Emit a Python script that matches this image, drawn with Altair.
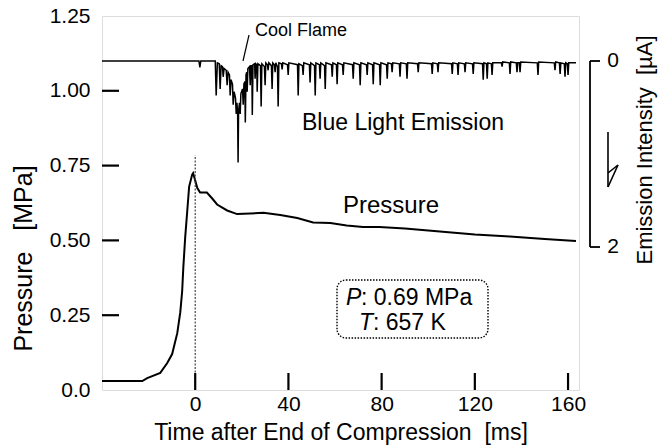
import altair as alt
import pandas as pd

FONT = "Liberation Sans"
NB = "\u00a0"

# ---- data ----
# pressure trace: time [ms], pressure [MPa]
p_t = [-40, -22.7, -20.6, -15.0, -12.0, -9.9, -7.7, -6.4, -5.6, -5.1, -4.3, -3.4, -2.6,
       -1.3, -0.9, 0.0, 0.9, 2.1, 5.0, 7.3, 9.4, 13.7, 18.0, 23.6, 29.3, 36.5, 43.8,
       50.6, 58.0, 65.0, 72.0, 79.0, 90, 105, 120, 135, 150, 160, 163.4]
p_v = [0.03, 0.03, 0.04, 0.057, 0.09, 0.12, 0.19, 0.26, 0.33, 0.41, 0.51, 0.60, 0.68,
       0.72, 0.725, 0.70, 0.675, 0.66, 0.66, 0.64, 0.62, 0.60, 0.588, 0.59, 0.592, 0.585, 0.575,
       0.56, 0.558, 0.55, 0.545, 0.545, 0.54, 0.53, 0.52, 0.513, 0.505, 0.50, 0.498]

# blue light emission: time [ms], intensity [uA] (downward spikes)
e_t = [-40, 1.6, 2.0, 2.4, 8.6, 9.0, 9.5, 10.3, 10.7, 11.1, 11.7, 12.0, 12.4, 13.3, 13.7,
       14.1, 14.7, 15.0, 15.4, 16.0, 16.3, 16.7, 17.3, 17.6, 17.9, 18.2, 18.4, 18.6, 19.0,
       19.3, 19.6, 20.3, 20.6, 20.9, 21.3, 21.5, 21.8, 22.1, 22.3, 22.6, 23.3, 23.6, 23.9,
       24.3, 24.5, 24.8, 25.5, 25.7, 26.0, 26.4, 26.6, 26.9, 28.0, 28.3, 28.6, 29.7, 30.0,
       30.3, 31.0, 31.3, 31.6, 32.7, 33.0, 33.3, 34.0, 34.3, 34.6, 35.3, 35.6, 35.9, 37.0,
       37.3, 37.6, 39.6, 39.9, 40.2, 43.9, 44.2, 44.5, 46.0, 46.3, 46.6, 49.0, 49.3, 49.6,
       51.2, 51.5, 51.8, 53.3, 53.6, 53.9, 55.5, 55.8, 56.1, 58.5, 58.8, 59.1, 60.6, 60.9,
       61.2, 63.2, 63.5, 63.8, 67.5, 67.8, 68.1, 70.5, 70.8, 71.1, 73.5, 73.8, 74.1, 76.1,
       76.4, 76.7, 79.1, 79.4, 79.7, 82.1, 82.4, 82.7, 84.2, 84.5, 84.8, 87.6, 87.9, 88.2,
       90.6, 90.9, 91.2, 95.4, 95.7, 96.0, 101.4, 101.7, 102.0, 103.9, 104.2, 104.5, 110.0,
       110.3, 110.6, 112.5, 112.8, 113.1, 115.5, 115.8, 116.1, 119.0, 119.3, 119.6, 123.3,
       123.6, 123.9, 125.0, 125.3, 125.6, 127.1, 127.4, 127.7, 131.4, 131.7, 132.0, 134.8,
       135.1, 135.4, 137.8, 138.1, 138.4, 139.1, 139.4, 139.7, 146.8, 147.1, 147.4, 154.1,
       154.4, 154.7, 156.3, 156.6, 156.9, 158.4, 158.7, 159.0, 159.7, 160.0, 160.3, 163.4]
e_i = [0, 0, 0.07, 0, 0, 0.37, 0.02, 0.03, 0.30, 0.05, 0.06, 0.17, 0.08, 0.10, 0.26,
       0.12, 0.15, 0.37, 0.20, 0.25, 0.47, 0.33, 0.40, 0.57, 0.45, 0.55, 1.09, 0.55, 0.45,
       0.57, 0.35, 0.30, 0.47, 0.25, 0.22, 0.66, 0.15, 0.12, 0.33, 0.08, 0.06, 0.26, 0.05,
       0.05, 0.58, 0.04, 0.03, 0.19, 0.03, 0.04, 0.33, 0.03, 0.05, 0.49, 0.03, 0.06, 0.26,
       0.02, 0.04, 0.10, 0.02, 0.05, 0.30, 0.02, 0.04, 0.12, 0.02, 0.06, 0.49, 0.02, 0.03,
       0.09, 0.02, 0.04, 0.15, 0.02, 0.04, 0.37, 0.03, 0.05, 0.15, 0.02, 0.04, 0.23, 0.02,
       0.05, 0.37, 0.02, 0.04, 0.19, 0.02, 0.05, 0.30, 0.02, 0.04, 0.17, 0.02, 0.04, 0.25,
       0.02, 0.04, 0.15, 0.02, 0.04, 0.19, 0.02, 0.04, 0.26, 0.02, 0.04, 0.15, 0.02, 0.04,
       0.25, 0.02, 0.04, 0.26, 0.02, 0.04, 0.19, 0.02, 0.03, 0.12, 0.02, 0.03, 0.17, 0.02,
       0.03, 0.19, 0.02, 0.03, 0.12, 0.02, 0.03, 0.14, 0.02, 0.03, 0.12, 0.02, 0.03,
       0.14, 0.02, 0.03, 0.15, 0.02, 0.03, 0.12, 0.02, 0.03, 0.14, 0.02, 0.03,
       0.20, 0.02, 0.03, 0.19, 0.02, 0.03, 0.15, 0.02, 0.02, 0.06, 0.01, 0.02,
       0.14, 0.01, 0.02, 0.12, 0.02, 0.02, 0.12, 0.01, 0.02, 0.15, 0.01, 0.02,
       0.10, 0.01, 0.02, 0.14, 0.02, 0.03, 0.17, 0.02, 0.03, 0.15, 0.02, 0.02]

x_ticks = [0, 40, 80, 120, 160]
y_ticks = [0.25, 0.50, 0.75, 1.00]
y_labels = [0, 0.25, 0.5, 0.75, 1.0, 1.25]
em_ticks = [0, 2]
em_labels = ["0", "2"]
cond_p = "0.69 MPa"
cond_T = "657 K"

# right-hand emission axis drawn against the pressure axis:
# 0 uA sits at 1.0996 MPa, each uA spans 0.31085 MPa downward
EM_ZERO, EM_PER_UA = 1.0996, 0.31085
EM_EXPR = f"{EM_ZERO} - {EM_PER_UA} * datum.i"

W, H = 477, 374
X0, X1 = -40, 164.7
TL = 17  # inward tick length in px

p_df = pd.DataFrame({"t": p_t, "p": p_v})
e_df = pd.DataFrame({"t": e_t, "i": e_i})
yt_df = pd.DataFrame({"v": y_ticks, "lab": [str(v) for v in y_ticks]})
zero_df = pd.DataFrame({"t": [0], "p0": [0.0], "p1": [0.785]})
em_df = pd.DataFrame({"i": em_ticks, "lab": em_labels})
one = pd.DataFrame({"k": [0]})

xs = alt.Scale(domain=[X0, X1], nice=False, zero=False)
ps = alt.Scale(domain=[0, 1.25], nice=False, zero=False)
X = alt.X("t:Q", scale=xs, axis=alt.Axis(
    values=x_ticks, title=f"Time after End of Compression{NB} [ms]", grid=False,
    domain=False, ticks=False, tickSize=0, labelPadding=3, labelFontSize=21,
    labelFont=FONT, labelColor="black", titleFont=FONT, titleFontSize=23,
    titleFontWeight="normal", titleColor="black", titleY=42, titleBaseline="middle"))
Y = alt.Y("p:Q", scale=ps, axis=alt.Axis(
    values=y_labels, labelExpr="datum.value == 0 ? '0.0' : format(datum.value, '.2f')",
    title=f"Pressure{NB}{NB} [MPa]", grid=False, domain=False, ticks=False, tickSize=0,
    labelPadding=12, labelFontSize=21, labelFont=FONT, labelColor="black",
    titleFont=FONT, titleFontSize=25, titleFontWeight="normal", titleColor="black",
    titleX=-79, titleY=242, titleBaseline="middle"))
XS = alt.X("t:Q", scale=xs)
YS = alt.Y("p:Q", scale=ps)

pressure = alt.Chart(p_df).mark_line(color="black", strokeWidth=2).encode(x=X, y=Y)
zero_line = alt.Chart(zero_df).mark_rule(color="#444", strokeWidth=1.2, strokeDash=[2, 1.5]).encode(
    x=XS, y=alt.Y("p0:Q", scale=ps), y2="p1:Q")

# inward ticks on the bottom axis, one per tick value, placed through the x scale
xticks = [
    alt.Chart(one).mark_rule(color="black", strokeWidth=2.2).encode(
        x=alt.X(datum=v, scale=xs), y=alt.value(H), y2=alt.value(H - TL))
    for v in x_ticks
]
# inward ticks on the left axis, placed through the y scale
ytick = alt.Chart(yt_df).transform_calculate(p="datum.v").mark_rule(
    color="black", strokeWidth=2.2).encode(x=alt.value(0), x2=alt.value(TL), y=YS)

emission = alt.Chart(e_df).transform_calculate(p=EM_EXPR).mark_line(
    color="black", strokeWidth=1.5).encode(x=XS, y=YS)
em_pts = alt.Chart(em_df).transform_calculate(p=EM_EXPR)
bracket = em_pts.mark_line(color="black", strokeWidth=1.8).encode(
    x=alt.value(488), y=YS, order="i:Q")
btick = em_pts.mark_rule(color="black", strokeWidth=1.8).encode(
    x=alt.value(488), x2=alt.value(498), y=YS)
blab = em_pts.mark_text(font=FONT, fontSize=21, color="black", align="center",
                        baseline="middle").encode(x=alt.value(511), y=YS, text="lab:N")


def txt(s, x, y, size, **kw):
    return alt.Chart(one).mark_text(font=FONT, fontSize=size, color="black", **kw).encode(
        x=alt.value(x), y=alt.value(y), text=alt.value(s))


def seg(x1, y1, x2, y2, w=1.5):
    return alt.Chart(one).mark_rule(color="black", strokeWidth=w).encode(
        x=alt.value(x1), y=alt.value(y1), x2=alt.value(x2), y2=alt.value(y2))


box = alt.Chart(one).mark_rect(fill=None, stroke="black", strokeWidth=1.4,
                               strokeDash=[1.5, 1.5], cornerRadius=9).encode(
    x=alt.value(235), x2=alt.value(386), y=alt.value(264), y2=alt.value(322))

chart = alt.layer(
    pressure, zero_line, *xticks, ytick, emission, bracket, btick, blab,
    txt("Cool Flame", 199, 15, 18, align="center", baseline="middle"),
    seg(147, 19, 141, 45, 1.2),
    txt("Blue Light Emission", 301, 107, 23, align="center", baseline="middle"),
    txt("Pressure", 289, 190, 24, align="center", baseline="middle"),
    box,
    txt("P", 244, 282, 23, align="left", baseline="middle", fontStyle="italic"),
    txt(": " + cond_p, 259, 282, 23, align="left", baseline="middle"),
    txt("T", 257, 307, 23, align="left", baseline="middle", fontStyle="italic"),
    txt(": " + cond_T, 271, 307, 23, align="left", baseline="middle"),
    seg(506, 116, 506, 171, 1.6),
    seg(516, 149, 506, 171, 1.6),
    seg(516, 149, 506, 157, 1.6),
    txt(f"Emission Intensity{NB} [µA]", 543, 134, 22, align="center", baseline="middle", angle=270),
).properties(
    width=W, height=H,
    autosize=alt.AutoSizeParams(type="none"),
    padding={"left": 102, "top": 16, "right": 85, "bottom": 56},
).configure_view(stroke="black", strokeWidth=1.8).configure(background="white")

chart.save("out.html", embed_options={"renderer": "svg", "actions": False})
